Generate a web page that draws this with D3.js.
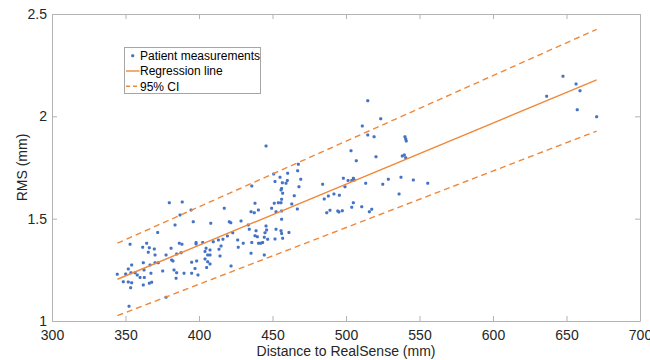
<!DOCTYPE html>
<html>
<head>
<meta charset="utf-8">
<script src="https://cdn.jsdelivr.net/npm/d3@7"></script>
<style>
  html, body { margin: 0; padding: 0; background: #fff; }
  svg { display: block; font-family: "Liberation Sans", Arial, Helvetica, sans-serif; }
</style>
</head>
<body>
<svg id="chart" width="650" height="360"></svg>
<script>
// ---- data ----
const distance = [
  379.8,388.6,387.1,394.6,396.1,383.7,371.9,353.1,364.4,361.7,366.2,369.6,365.5,370.1,381.0,386.6,388.4,398.0,398.0,387.8,
  384.8,377.6,372.3,370.1,366.7,362.1,381.4,382.3,395.0,398.4,354.2,351.9,362.6,367.3,375.3,383.0,384.8,344.4,350.1,353.7,
  356.5,358.0,359.9,362.8,348.5,351.9,354.2,353.5,362.1,366.2,367.8,389.8,395.0,399.3,384.4,377.6,352.4,397.3,
  450.8,435.9,438.1,435.4,437.6,440.4,449.4,451.2,417.2,408.0,420.6,421.6,428.6,433.5,434.2,445.6,446.0,444.9,438.8,439.7,
  438.1,444.4,446.7,451.7,443.3,442.0,435.9,440.5,430.1,426.3,426.7,422.9,419.3,416.3,413.2,409.7,415.0,413.6,414.3,407.5,
  404.8,404.1,405.9,407.5,404.1,405.9,407.5,421.8,435.4,444.4,402.5,405.2,
  467.6,467.1,455.1,460.3,451.7,456.7,459.2,460.1,469.2,456.2,455.8,456.9,468.0,464.8,456.2,454.0,455.8,463.1,466.9,452.4,
  456.2,456.2,452.4,455.8,456.2,461.2,456.9,484.1,498.2,501.4,485.2,488.0,491.8,495.5,486.9,489.1,494.4,495.2,497.5,445.6,
  514.8,523.6,511.1,514.8,519.1,540.1,540.6,541.0,503.4,507.0,520.4,538.3,539.7,540.6,505.0,505.6,503.9,513.4,528.8,537.4,
  545.8,555.6,525.0,536.1,499.3,503.9,505.0,510.7,515.9,517.5,
  636.5,647.6,656.5,659.2,657.3,670.5
];
const rms = [
  1.578,1.581,1.518,1.542,1.485,1.469,1.433,1.375,1.380,1.360,1.358,1.352,1.336,1.322,1.355,1.380,1.375,1.383,1.376,1.334,
  1.327,1.322,1.285,1.285,1.274,1.285,1.298,1.293,1.287,1.293,1.274,1.254,1.249,1.233,1.244,1.249,1.236,1.228,1.230,1.236,
  1.236,1.225,1.212,1.212,1.192,1.191,1.187,1.163,1.176,1.184,1.189,1.233,1.233,1.225,1.209,1.116,1.072,1.257,
  1.718,1.660,1.575,1.534,1.529,1.542,1.551,1.575,1.551,1.477,1.485,1.480,1.489,1.469,1.448,1.464,1.445,1.431,1.441,1.412,
  1.416,1.409,1.399,1.401,1.383,1.380,1.383,1.380,1.380,1.396,1.360,1.431,1.415,1.399,1.396,1.387,1.366,1.350,1.318,1.347,
  1.355,1.339,1.322,1.322,1.303,1.290,1.279,1.269,1.331,1.322,1.383,1.262,
  1.766,1.734,1.702,1.722,1.681,1.676,1.673,1.686,1.692,1.648,1.640,1.624,1.656,1.612,1.595,1.578,1.578,1.572,1.547,1.534,
  1.537,1.497,1.448,1.441,1.428,1.433,1.404,1.668,1.697,1.686,1.596,1.611,1.621,1.614,1.529,1.541,1.537,1.533,1.539,1.855,
  2.076,1.988,1.953,1.909,1.900,1.900,1.889,1.879,1.832,1.783,1.803,1.806,1.811,1.798,1.697,1.689,1.686,1.673,1.692,1.702,
  1.689,1.673,1.668,1.621,1.656,1.556,1.578,1.558,1.534,1.546,
  2.098,2.196,2.158,2.125,2.032,1.998
];
const fitX = [344.5, 670.5];
const fitY = [1.204, 2.178];
const ciUpper = [1.380, 2.425];
const ciLower = [1.026, 1.928];
const xTicks = [300, 350, 400, 450, 500, 550, 600, 650, 700];
const yTicks = [1, 1.5, 2, 2.5];
const legendLabels = ["Patient measurements", "Regression line", "95% CI"];
const xLabel = "Distance to RealSense (mm)";
const yLabel = "RMS (mm)";

// ---- layout ----
const L = 52, T = 14, R = 640, B = 321;
const blue = "#4472C4", orange = "#F0883A", axisCol = "#b3b3b3", textCol = "#262626";

const svg = d3.select("#chart");
const x = d3.scaleLinear().domain([300, 700]).range([L, R]);
const y = d3.scaleLinear().domain([1, 2.5]).range([B, T]);

// box background
svg.append("rect").attr("x", L).attr("y", T).attr("width", R - L).attr("height", B - T)
  .attr("fill", "#fff");

// data points
svg.append("g").selectAll("rect").data(distance.map((d, i) => [d, rms[i]])).join("rect")
  .attr("x", d => x(d[0]) - 1.5).attr("y", d => y(d[1]) - 1.5)
  .attr("width", 3).attr("height", 3).attr("rx", 1)
  .attr("fill", blue);

// regression & CI
const line = d3.line().x(d => x(d[0])).y(d => y(d[1]));
svg.append("path").datum(fitX.map((v, i) => [v, fitY[i]])).attr("d", line)
  .attr("fill", "none").attr("stroke", orange).attr("stroke-width", 1.4);
[ciUpper, ciLower].forEach(arr => {
  svg.append("path").datum(fitX.map((v, i) => [v, arr[i]])).attr("d", line)
    .attr("fill", "none").attr("stroke", orange).attr("stroke-width", 1.4)
    .attr("stroke-dasharray", "6,4");
});

// axes
function styleAxis(g) {
  g.select(".domain").attr("stroke", axisCol).attr("stroke-width", 1);
  g.selectAll(".tick line").attr("stroke", axisCol).attr("stroke-width", 1);
  g.selectAll(".tick text").attr("fill", textCol).style("font-size", "14px")
    .style("font-family", "'Liberation Sans', Arial, sans-serif");
}
svg.append("g").attr("transform", `translate(0,${B})`)
  .call(d3.axisBottom(x).tickValues(xTicks).tickFormat(d3.format("d")).tickSize(-5).tickSizeOuter(0).tickPadding(9))
  .call(styleAxis);
svg.append("g").attr("transform", `translate(0,${T})`)
  .call(d3.axisTop(x).tickValues(xTicks).tickFormat("").tickSize(-5).tickSizeOuter(0))
  .call(styleAxis);
svg.append("g").attr("transform", `translate(${L},0)`)
  .call(d3.axisLeft(y).tickValues(yTicks).tickFormat(d => d3.format("")(d)).tickSize(-5).tickSizeOuter(0).tickPadding(5))
  .call(styleAxis);
svg.append("g").attr("transform", `translate(${R},0)`)
  .call(d3.axisRight(y).tickValues(yTicks).tickFormat("").tickSize(-5).tickSizeOuter(0))
  .call(styleAxis);
svg.selectAll(".tick text").attr("font-size", null);

// axis labels
svg.append("text").attr("x", (L + R) / 2).attr("y", 356).attr("text-anchor", "middle")
  .attr("fill", textCol).style("font-size", "14px").text(xLabel);
svg.append("text").attr("transform", `translate(27,${(T + B) / 2}) rotate(-90)`)
  .attr("text-anchor", "middle").attr("fill", textCol).style("font-size", "14px").text(yLabel);

// legend
const lg = svg.append("g");
lg.append("rect").attr("x", 124.5).attr("y", 47.5).attr("width", 136).attr("height", 46)
  .attr("fill", "#fff").attr("stroke", "#a6a6a6").attr("stroke-width", 1);
const rowsY = [55.7, 71, 86.2];
legendLabels.forEach((lab, i) => {
  const cy = rowsY[i];
  if (i === 0) {
    lg.append("rect").attr("x", 131.2).attr("y", cy - 1.5).attr("width", 3).attr("height", 3)
      .attr("rx", 1).attr("fill", blue);
  } else {
    lg.append("line").attr("x1", 126).attr("x2", 139.5).attr("y1", cy).attr("y2", cy)
      .attr("stroke", orange).attr("stroke-width", 1.4)
      .attr("stroke-dasharray", i === 2 ? "4,3" : null);
  }
  lg.append("text").attr("x", 140).attr("y", cy + 4.3).attr("fill", "#000")
    .style("font-size", "12px").text(lab);
});
</script>
</body>
</html>
